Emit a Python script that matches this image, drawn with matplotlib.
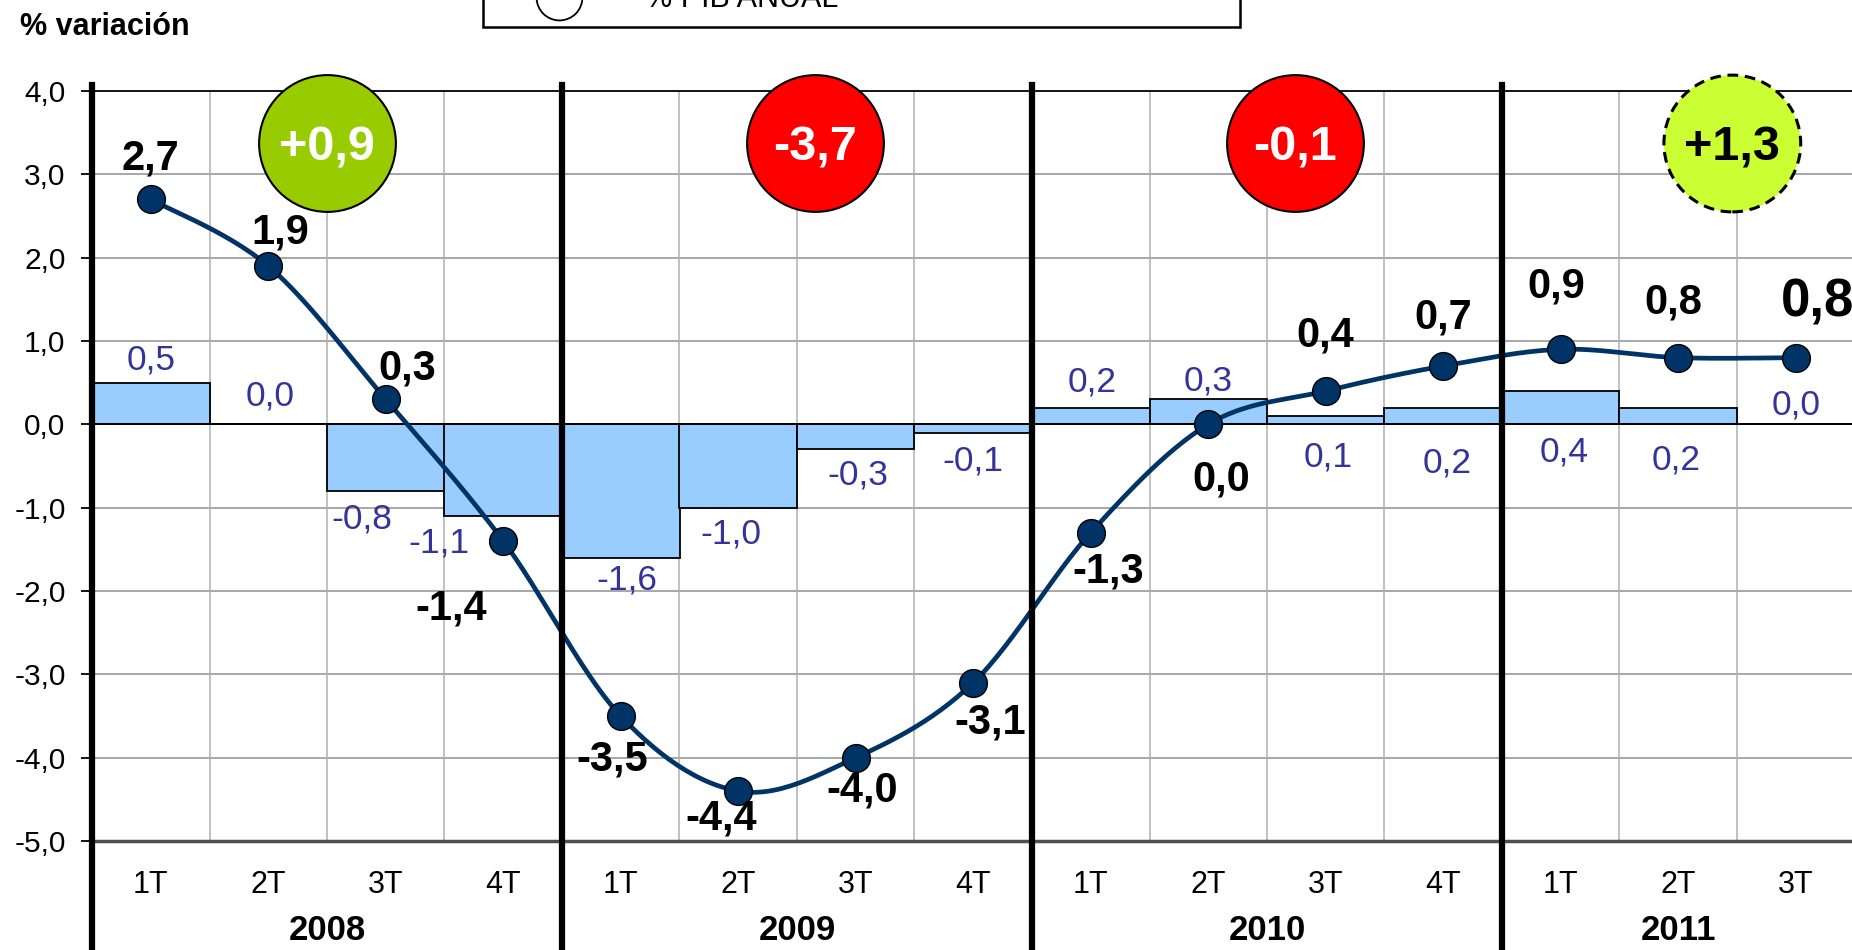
import numpy as np
import matplotlib
matplotlib.use('Agg')
import matplotlib.pyplot as plt
from matplotlib.patches import Rectangle
from matplotlib.lines import Line2D
from matplotlib.transforms import blended_transform_factory

plt.rcParams['font.family'] = ['Liberation Sans', 'DejaVu Sans']

# ---------------- data ----------------
quarters = ['1T', '2T', '3T', '4T', '1T', '2T', '3T', '4T',
            '1T', '2T', '3T', '4T', '1T', '2T', '3T']
years = ['2008', '2009', '2010', '2011']
pib_anual = [2.7, 1.9, 0.3, -1.4, -3.5, -4.4, -4.0, -3.1,
             -1.3, 0.0, 0.4, 0.7, 0.9, 0.8, 0.8]
pib_trimestral = [0.5, 0.0, -0.8, -1.1, -1.6, -1.0, -0.3, -0.1,
                  0.2, 0.3, 0.1, 0.2, 0.4, 0.2, 0.0]
annual_totals = ['+0,9', '-3,7', '-0,1', '+1,3']
yticks = [-5, -4, -3, -2, -1, 0, 1, 2, 3, 4]

# ---------------- style / layout ----------------
W, H = 1852, 950
year_centers = [1.5, 5.5, 9.5, 13.0]
year_bounds = [-0.5, 3.5, 7.5, 11.5]
badge_x = [1.5, 5.65, 9.74, 13.46]
badge_y = 3.37
badge_face = ['#99CC00', '#FF0000', '#FF0000', '#CCFF33']
badge_text_color = ['white', 'white', 'white', 'black']
badge_ls = ['-', '-', '-', (0, (3.5, 2.2))]

# label offsets in pixels (dx, dy)
line_lbl_off = [(0, 41), (12, 33), (21, 31), (-52, -68), (-9, -44), (-17, -28),
                (6, -33), (17, -40), (17, -39), (13, -55), (0, 55), (0, 48),
                (-4, 63), (-5, 55), (22, 55)]
line_lbl_size = [30] * 14 + [38]
bar_lbl_off = [(0, 23), (2, 28), (-24, -28), (-64, -27), (6, -22), (-7, -26),
               (2, -26), (0, -28), (1, 26), (0, 18), (2, -41), (4, -55),
               (3, -61), (-2, -52), (0, 19)]

def fmt(v):
    return f"{v:.1f}".replace('.', ',')

fig = plt.figure(figsize=(W / 100, H / 100), dpi=100)
ax = fig.add_axes([92 / W, 109 / H, 1762.5 / W, 750 / H])
x = np.arange(len(quarters))

# grid
for yv in yticks[1:-1]:
    if yv != 0:
        ax.axhline(yv, color='#A0A0A0', lw=1.3, zorder=0)
for xv in np.arange(0.5, 14.5, 1.0):
    ax.axvline(xv, color='#B0B0B0', lw=1.1, zorder=0)

# bars
ax.bar(x, pib_trimestral, width=1.0, color='#99CCFF', edgecolor='black',
       linewidth=1.3, zorder=2)
ax.axhline(0, color='black', lw=1.3, zorder=3)

# smoothed line (Excel style bezier through the points)
px = x.astype(float)
py = np.array(pib_anual, dtype=float)
P = np.column_stack([px, py])
n = len(P)
curve = []
t = np.linspace(0, 1, 30)
for i in range(n - 1):
    p0 = P[max(i - 1, 0)]
    p1 = P[i]
    p2 = P[i + 1]
    p3 = P[min(i + 2, n - 1)]
    b1 = p1 + (p2 - p0) / 6.0
    b2 = p2 - (p3 - p1) / 6.0
    seg = ((1 - t) ** 3)[:, None] * p1 + (3 * (1 - t) ** 2 * t)[:, None] * b1 \
        + (3 * (1 - t) * t ** 2)[:, None] * b2 + (t ** 3)[:, None] * p2
    curve.append(seg)
curve = np.vstack(curve)
ax.plot(curve[:, 0], curve[:, 1], color='#003366', lw=3.4, zorder=4,
        solid_capstyle='round')
ax.plot(px, py, 'o', ms=20, mfc='#003366', mec='black', mew=1.0, zorder=5)

# line labels
for i, v in enumerate(pib_anual):
    ax.annotate(fmt(v), (px[i], v), xytext=line_lbl_off[i],
                textcoords='offset pixels', ha='center', va='center',
                fontsize=line_lbl_size[i], fontweight='bold', color='black',
                zorder=6, annotation_clip=False)

# bar labels
for i, v in enumerate(pib_trimestral):
    ax.annotate(fmt(v), (px[i], v), xytext=bar_lbl_off[i],
                textcoords='offset pixels', ha='center', va='center',
                fontsize=25.5, color='#333399', zorder=6, annotation_clip=False)

# badges
for i, lab in enumerate(annual_totals):
    ax.scatter([badge_x[i]], [badge_y], s=9700, c=badge_face[i],
               edgecolors='black', linewidths=2.2 if i == 3 else 1.5,
               linestyles=[badge_ls[i]], zorder=7, clip_on=False)
    ax.text(badge_x[i], badge_y, lab, ha='center', va='center_baseline',
            fontsize=35, fontweight='bold', color=badge_text_color[i], zorder=8)

ax.set_xlim(-0.5, 14.5)
ax.set_ylim(-5, 4)
ax.set_yticks(yticks)
ax.set_yticklabels([fmt(v) for v in yticks])
ax.set_xticks([])
ax.tick_params(axis='y', length=8, width=1.3, labelsize=21.5, pad=11,
               colors='black')
for s in ['left', 'right']:
    ax.spines[s].set_visible(False)
ax.spines['top'].set_color('black')
ax.spines['top'].set_linewidth(1.3)
ax.spines['bottom'].set_color('#505050')
ax.spines['bottom'].set_linewidth(2.5)

# category & year labels
bt = blended_transform_factory(ax.transData, fig.transFigure)
for i, q in enumerate(quarters):
    ax.text(i, 1 - 885 / H, q, transform=bt, ha='center', va='center',
            fontsize=22)
for yc, yl in zip(year_centers, years):
    ax.text(yc, 1 - 931 / H, yl, transform=bt, ha='center', va='center',
            fontsize=25, fontweight='bold')

# thick year separators
for xb in year_bounds:
    fig.add_artist(Line2D([xb, xb], [0, 1 - 85 / H], transform=bt,
                          color='black', lw=4.5, zorder=9))

# y axis title
fig.text(20 / W, 1 - 27 / H, '% variación', ha='left', va='center',
         fontsize=22, fontweight='bold')

# legend box (clipped at top)
fig.add_artist(Rectangle((483 / W, 1 - 27 / H), (1240 - 483) / W, 60 / H,
                         transform=fig.transFigure, facecolor='white',
                         edgecolor='black', lw=1.8))
fig.add_artist(Line2D([559 / W], [1 + 3 / H], transform=fig.transFigure,
                      marker='o', ms=33, mfc='white', mec='black', mew=1.3))
fig.text(645 / W, 1 - 7 / H, '% PIB ANUAL', ha='left', va='baseline',
         fontsize=22)

fig.savefig('out.png', dpi=100)
